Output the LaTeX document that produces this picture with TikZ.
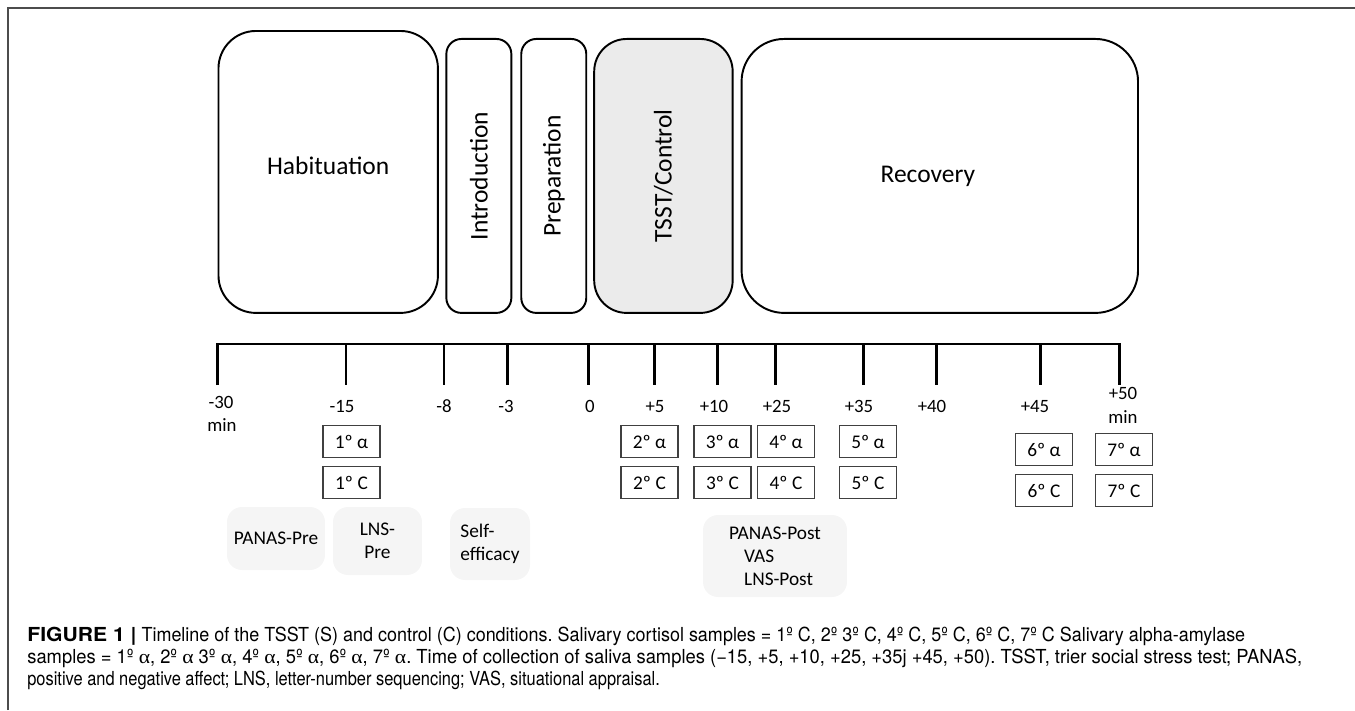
\documentclass[tikz,border=0pt]{standalone}
\usepackage{fontspec}
\setmainfont{Carlito}
\newfontfamily\capfont{TeX Gyre Heros}[FakeStretch=0.85]
\newfontfamily\capbold{TeX Gyre Heros Bold}
\newfontfamily\grkfont{Liberation Serif}
\usepackage{tikz}
\usetikzlibrary{positioning}
\frenchspacing

\begin{document}
\begin{tikzpicture}[
			x=0.02cm, y=-0.02cm,
			phase/.style={
				draw,
				line width=1.1pt,
				rounded corners=0.3cm,
				minimum height=5.48cm,
				inner sep=0pt,
				font=\fontsize{14.5}{16}\selectfont
			},
			sample/.style={
				draw=black!75,
				line width=0.6pt,
				minimum width=1.14cm,
				minimum height=0.64cm,
				inner sep=0pt,
				font=\fontsize{11}{12}\selectfont
			},
			tick/.style={line width=1.7pt},
			ticklab/.style={anchor=base, inner sep=0pt, font=\fontsize{10.7}{12.5}\selectfont},
			measure/.style={
				fill=black!4,
				rounded corners=0.3cm,
				inner sep=0pt,
				font=\fontsize{11}{13}\selectfont
			},
			capline/.style={anchor=base west, inner sep=0pt, font=\capfont\fontsize{11}{13}\selectfont}
			]
			\useasboundingbox (0,0) rectangle (1355,710);
			\draw[line width=1.1pt, black!70] (8,710) -- (8,8) -- (1355,8);
			% phases
			\node[phase, rounded corners=0.75cm, minimum width=4.39cm, minimum height=5.64cm, anchor=north west] (hab) at (217.5,30) {\raisebox{0.24cm}{Habituation}};
			\node[phase, minimum width=1.3cm, right=0.13cm of hab.south east, anchor=south west] (intro) {\rotatebox{90}{Introduction}};
			\node[phase, minimum width=1.3cm, right=0.16cm of intro.south east, anchor=south west] (prep) {\rotatebox{90}{Preparation}};
			\node[phase, fill=black!8, rounded corners=0.65cm, minimum width=2.77cm, right=0.12cm of prep.south east, anchor=south west] (tsst) {\rotatebox{90}{TSST/Control}};
			\node[phase, rounded corners=0.85cm, minimum width=7.93cm, right=0.14cm of tsst.south east, anchor=south west] (rec) {Recovery\hspace*{0.48cm}};
			% timeline
			\draw[tick] (217.5,385) -- (217.5,344) -- (1119,344) -- (1119,385);
			\foreach \x/\n in {217.5/m30, 346/m15, 444/m8, 507/m3, 588/z, 654/p5, 717.5/p10, 775/p25, 863/p35, 936/p40, 1040/p45, 1119/p50}
				\draw[tick] (\x,344) -- (\x,385) coordinate (t\n);
			\foreach \x/\y/\lab/\n in {221/408/-30/m30, 342/412/-15/m15, 444/412/-8/m8, 506/412/-3/m3, 590/412/0/z, 655/412/+5/p5, 714/412/+10/p10, 777/412/+25/p25, 859/412/+35/p35, 932/412/+40/p40, 1035/412/+45/p45, 1123/399/+50/p50}
				\node[ticklab] (l\n) at (\x,\y) {\lab};
			\node[ticklab] (minl) at (222,431) {min};
			\node[ticklab] (minr) at (1123,423) {min};
			% saliva samples
			\foreach \i/\x/\y in {1/351.5/441.5, 2/649.5/441.5, 3/722.5/441.5, 4/786/441.5, 5/868/441.5, 6/1044/449.5, 7/1124/449.5}{
				\node[sample] (a\i) at (\x,\y) {\i{}º α};
				\node[sample, below=0.16cm of a\i] (c\i) {\i{}º C};
			}
			% questionnaires
			\node[measure, minimum width=1.96cm, minimum height=1.26cm] (panaspre) at (276,538.5) {PANAS-Pre};
			\node[measure, minimum width=1.78cm, minimum height=1.36cm, align=center] (lnspre) at (377.5,541) {LNS-\\Pre};
			\node[measure, minimum width=1.6cm, minimum height=1.44cm, align=left] (self) at (490,544) {Self-\\efficacy};
			\node[measure, minimum width=2.88cm, minimum height=1.64cm, align=left] (post) at (775,556) {PANAS-Post\\\hspace*{0.3cm}VAS\\\hspace*{0.3cm}LNS-Post};
			% caption
			\node[capline] (cap1) at (27,641) {\resizebox{24.36cm}{\height}{{\capbold FIGURE 1 |} Timeline of the TSST (S) and control (C) conditions. Salivary cortisol samples = 1º C, 2º 3º C, 4º C, 5º C, 6º C, 7º C Salivary alpha-amylase}};
			\node[capline] (cap2) at (27,663) {\resizebox{25.5cm}{\height}{samples = 1º {\grkfont α}, 2º {\grkfont α} 3º {\grkfont α}, 4º {\grkfont α}, 5º {\grkfont α}, 6º {\grkfont α}, 7º {\grkfont α}. Time of collection of saliva samples (−15, +5, +10, +25, +35j +45, +50). TSST, trier social stress test; PANAS,}};
			\node[capline] (cap3) at (27,685) {positive and negative affect; LNS, letter-number sequencing; VAS, situational appraisal.};
		\end{tikzpicture}
\end{document}
